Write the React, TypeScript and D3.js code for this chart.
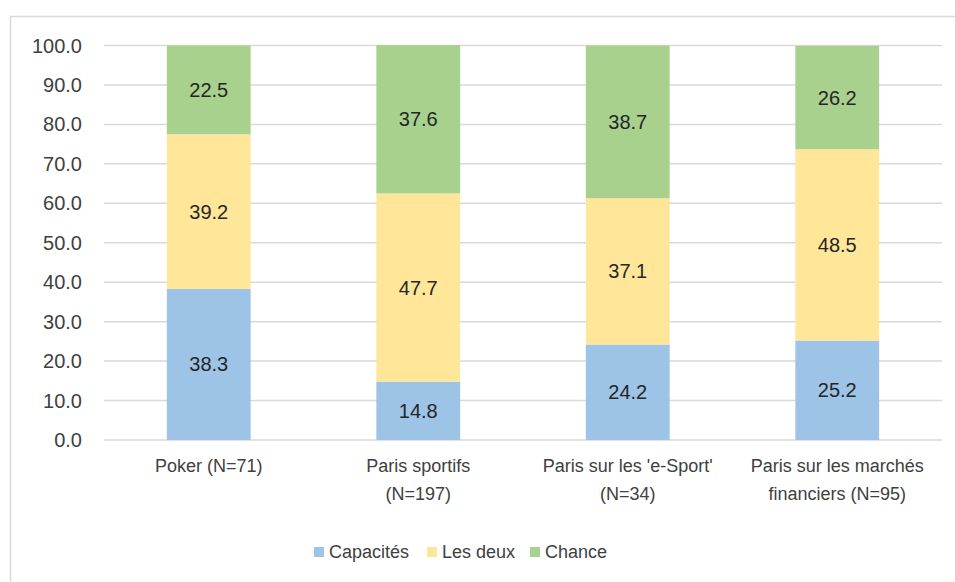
import React, { useEffect, useRef } from 'react';
import * as d3 from 'd3';

const categories = [
  ['Poker (N=71)'],
  ['Paris sportifs', '(N=197)'],
  ["Paris sur les 'e-Sport'", '(N=34)'],
  ['Paris sur les marchés', 'financiers (N=95)'],
];
const seriesNames = ['Capacités', 'Les deux', 'Chance'];
const capacites = [38.3, 14.8, 24.2, 25.2];
const lesDeux = [39.2, 47.7, 37.1, 48.5];
const chance = [22.5, 37.6, 38.7, 26.2];
const yTicks = [0, 10, 20, 30, 40, 50, 60, 70, 80, 90, 100];
const colors = ['#9DC3E6', '#FFE699', '#A9D18E'];

const W = 955;
const H = 582;
const FONT = '"Liberation Sans", Arial, sans-serif';

const App = () => {
  const svgRef = useRef<SVGSVGElement>(null);

  useEffect(() => {
    const svg = d3.select(svgRef.current);
    svg.selectAll('*').remove();

    const margin = { top: 45.5, left: 104, right: 13, bottom: 142 };
    const innerW = W - margin.left - margin.right;
    const innerH = H - margin.top - margin.bottom;

    // outer chart border
    svg.append('rect')
      .attr('x', 10.5).attr('y', 16.5)
      .attr('width', W).attr('height', H)
      .attr('fill', '#fff').attr('stroke', '#d9d9d9').attr('stroke-width', 1.5);

    const g = svg.append('g').attr('transform', `translate(${margin.left},${margin.top})`);

    const x = d3.scaleBand<number>()
      .domain(d3.range(categories.length))
      .range([0, innerW])
      .paddingInner(0.6)
      .paddingOuter(0.3);

    const y = d3.scaleLinear().domain([0, 100]).range([innerH, 0]);

    // gridlines
    g.selectAll('.grid')
      .data(yTicks)
      .enter().append('line')
      .attr('x1', 0).attr('x2', innerW)
      .attr('y1', d => y(d)).attr('y2', d => y(d))
      .attr('stroke', '#d9d9d9').attr('stroke-width', 1.5);

    // y tick labels
    g.selectAll('.ytick')
      .data(yTicks)
      .enter().append('text')
      .attr('x', -22).attr('y', d => y(d))
      .attr('dy', '0.35em')
      .attr('text-anchor', 'end')
      .attr('font-family', FONT).attr('font-size', 20)
      .attr('fill', '#404040')
      .text(d => d.toFixed(1));

    const rows = categories.map((_, i) => ({ i, 'Capacités': capacites[i], 'Les deux': lesDeux[i], 'Chance': chance[i] }));
    const stacked = d3.stack<any>().keys(seriesNames)(rows);

    stacked.forEach((layer, si) => {
      const lg = g.append('g');
      lg.selectAll('rect')
        .data(layer)
        .enter().append('rect')
        .attr('x', (_, i) => x(i)!)
        .attr('width', x.bandwidth())
        .attr('y', d => y(d[1]))
        .attr('height', d => y(d[0]) - y(d[1]))
        .attr('fill', colors[si]);
      lg.selectAll('text')
        .data(layer)
        .enter().append('text')
        .attr('x', (_, i) => x(i)! + x.bandwidth() / 2)
        .attr('y', d => y((d[0] + d[1]) / 2))
        .attr('dy', '0.35em')
        .attr('text-anchor', 'middle')
        .attr('font-family', FONT).attr('font-size', 20)
        .attr('fill', '#262626')
        .text(d => (d[1] - d[0]).toFixed(1));
    });

    // category labels
    categories.forEach((lines, i) => {
      const t = g.append('text')
        .attr('x', x(i)! + x.bandwidth() / 2)
        .attr('y', innerH + 32)
        .attr('dy', '0.35em')
        .attr('text-anchor', 'middle')
        .attr('font-family', FONT).attr('font-size', 18)
        .attr('fill', '#404040');
      lines.forEach((l, li) => {
        t.append('tspan')
          .attr('x', x(i)! + x.bandwidth() / 2)
          .attr('dy', li === 0 ? 0 : 28)
          .text(l);
      });
    });

    // legend
    const legendX = [314, 427, 530];
    const lg = svg.append('g');
    seriesNames.forEach((name, i) => {
      lg.append('rect')
        .attr('x', legendX[i]).attr('y', 547)
        .attr('width', 10).attr('height', 10)
        .attr('fill', colors[i]);
      lg.append('text')
        .attr('x', legendX[i] + 15).attr('y', 552)
        .attr('dy', '0.35em')
        .attr('font-family', FONT).attr('font-size', 18)
        .attr('fill', '#404040')
        .text(name);
    });
  }, []);

  return (
    <svg ref={svgRef} width={W} height={H} style={{ position: 'absolute', left: 0, top: 0 }}></svg>
  );
};

export default App;
